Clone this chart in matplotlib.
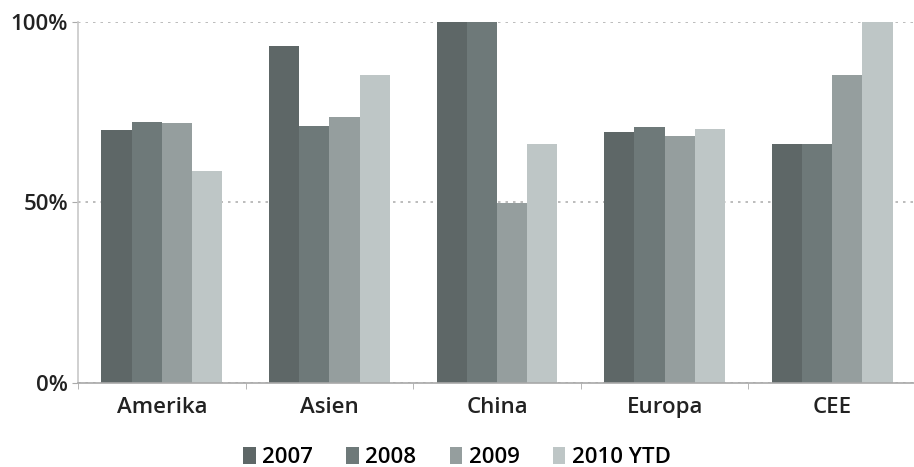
import matplotlib
matplotlib.use("Agg")
import matplotlib.pyplot as plt
import numpy as np
from matplotlib.ticker import FixedLocator, PercentFormatter

plt.rcParams["font.family"] = ["Open Sans", "DejaVu Sans"]
plt.rcParams["font.weight"] = "semibold"

categories = ["Amerika", "Asien", "China", "Europa", "CEE"]
years = ["2007", "2008", "2009", "2010 YTD"]
v2007 = [70.1, 93.4, 100.0, 69.6, 66.2]
v2008 = [72.4, 71.2, 100.0, 71.0, 66.2]
v2009 = [71.9, 73.8, 49.8, 68.5, 85.4]
v2010 = [58.8, 85.4, 66.2, 70.4, 100.0]
colors = ["#5e6767", "#6e7979", "#959e9e", "#bec6c6"]

series = [v2007, v2008, v2009, v2010]

fig = plt.figure(figsize=(9.14, 4.67), dpi=100)
ax = fig.add_axes([0.0853, 0.180, 0.917, 0.773])

x = np.arange(len(categories))
w = 0.18
for i, (vals, c, lab) in enumerate(zip(series, colors, years)):
    ax.bar(x + (i - 1.5) * w, vals, width=w, color=c, label=lab,
           edgecolor="none", zorder=2)

ax.set_xlim(-0.5, len(categories) - 0.5)
ax.set_ylim(0, 100)
ax.set_yticks([0, 50, 100])
ax.yaxis.set_major_formatter(PercentFormatter(decimals=0))
ax.yaxis.grid(True, linestyle=(0, (1.5, 3)), color="#b0b0b0", linewidth=1.2, zorder=0)

ax.set_xticks(x)
ax.set_xticklabels(categories)
ax.xaxis.set_minor_locator(FixedLocator(np.arange(len(categories) + 1) - 0.5))
ax.tick_params(axis="x", which="major", length=0, pad=10, labelsize=16, colors="#222222")
ax.tick_params(axis="x", which="minor", length=4, color="#aaaaaa", direction="out")
ax.tick_params(axis="y", length=4, color="#aaaaaa", pad=3, labelsize=16, labelcolor="#222222")

for s in ["top", "right"]:
    ax.spines[s].set_visible(False)
ax.spines["left"].set_color("#c8c8c8")
ax.spines["left"].set_linewidth(1.2)
ax.spines["bottom"].set_color("#a8a8a8")
ax.spines["bottom"].set_linewidth(1.2)

fig.legend(loc="lower center", bbox_to_anchor=(0.5, -0.045), ncol=4, frameon=False,
           fontsize=16, handlelength=0.55, handleheight=0.8, handletextpad=0.3,
           columnspacing=1.5)

fig.savefig("out.png", dpi=100)
